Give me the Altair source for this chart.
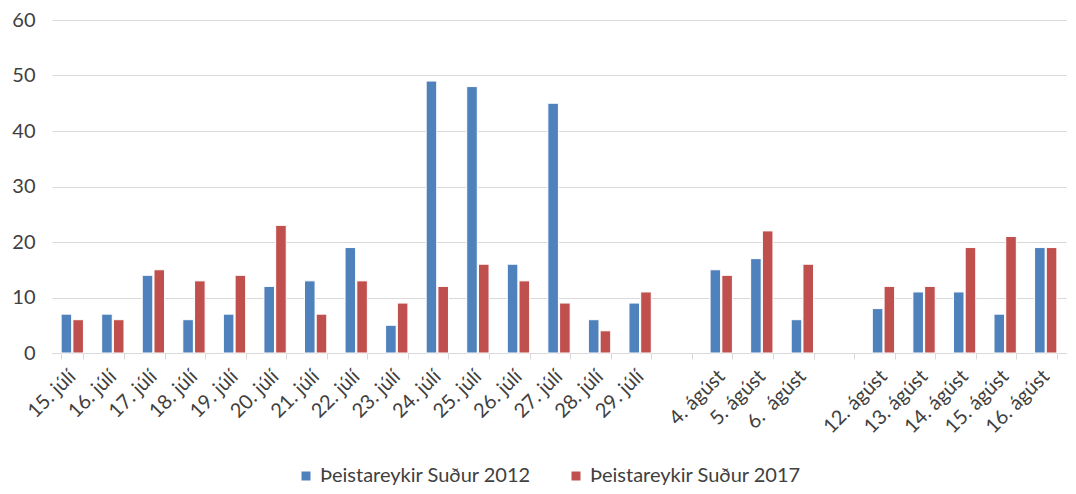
import altair as alt
import pandas as pd

categories = ["15. júlí", "16. júlí", "17. júlí", "18. júlí", "19. júlí", "20. júlí",
              "21. júlí", "22. júlí", "23. júlí", "24. júlí", "25. júlí", "26. júlí",
              "27. júlí", "28. júlí", "29. júlí", " ", "4. ágúst", "5. ágúst",
              "6. \u00a0ágúst", "  ", "12. ágúst", "13. ágúst", "14. ágúst",
              "15. ágúst", "16. ágúst"]
values_2012 = [7, 7, 14, 6, 7, 12, 13, 19, 5, 49, 48, 16, 45, 6, 9, None,
               15, 17, 6, None, 8, 11, 11, 7, 19]
values_2017 = [6, 6, 15, 13, 14, 23, 7, 13, 9, 12, 16, 13, 9, 4, 11, None,
               14, 22, 16, None, 12, 12, 19, 21, 19]
series = ["Þeistareykir Suður 2012", "Þeistareykir Suður 2017"]
colors = ["#4f81bd", "#c0504d"]

rows = []
for c, a, b in zip(categories, values_2012, values_2017):
    if a is not None:
        rows.append({"dagur": c, "röð": series[0], "gildi": a})
    if b is not None:
        rows.append({"dagur": c, "röð": series[1], "gildi": b})
df = pd.DataFrame(rows)

FONT = "Lato"
TXT = "#404040"

chart = alt.Chart(df).mark_bar(stroke="white", strokeWidth=1).encode(
    x=alt.X("dagur:N", sort=None, title=None,
            scale=alt.Scale(domain=categories, paddingInner=0.45, paddingOuter=0.225),
            axis=alt.Axis(labelAngle=-45, labelAlign="right", labelBaseline="middle",
                          labelFontSize=20, labelColor=TXT, labelFont=FONT,
                          labelPadding=14, tickBand="extent", tickSize=6,
                          tickColor="#d9d9d9", domainColor="#d9d9d9", grid=False,
                          labelOverlap=False)),
    xOffset=alt.XOffset("röð:N", scale=alt.Scale(paddingInner=0.1)),
    y=alt.Y("gildi:Q", title=None,
            scale=alt.Scale(domain=[0, 60], nice=False),
            axis=alt.Axis(values=[0, 10, 20, 30, 40, 50, 60], tickSize=0, domain=False,
                          gridColor="#d9d9d9", gridWidth=1, labelFontSize=20,
                          labelColor=TXT, labelFont=FONT, labelPadding=17)),
    color=alt.Color("röð:N", title=None,
                    scale=alt.Scale(domain=series, range=colors),
                    legend=alt.Legend(orient="none", legendX=244, legendY=446,
                                      direction="horizontal", symbolType="square",
                                      symbolSize=81, symbolStrokeWidth=0,
                                      labelFontSize=20, labelColor=TXT, labelFont=FONT,
                                      labelLimit=400,
                                      columnPadding=34, labelOffset=4)),
).properties(
    width=1014, height=333,
    autosize=alt.AutoSizeParams(type="none"),
    padding={"left": 44, "top": 12, "right": 2, "bottom": 133},
).configure_view(stroke=None)

chart.save("out.html", embed_options={"renderer": "svg", "actions": False})
